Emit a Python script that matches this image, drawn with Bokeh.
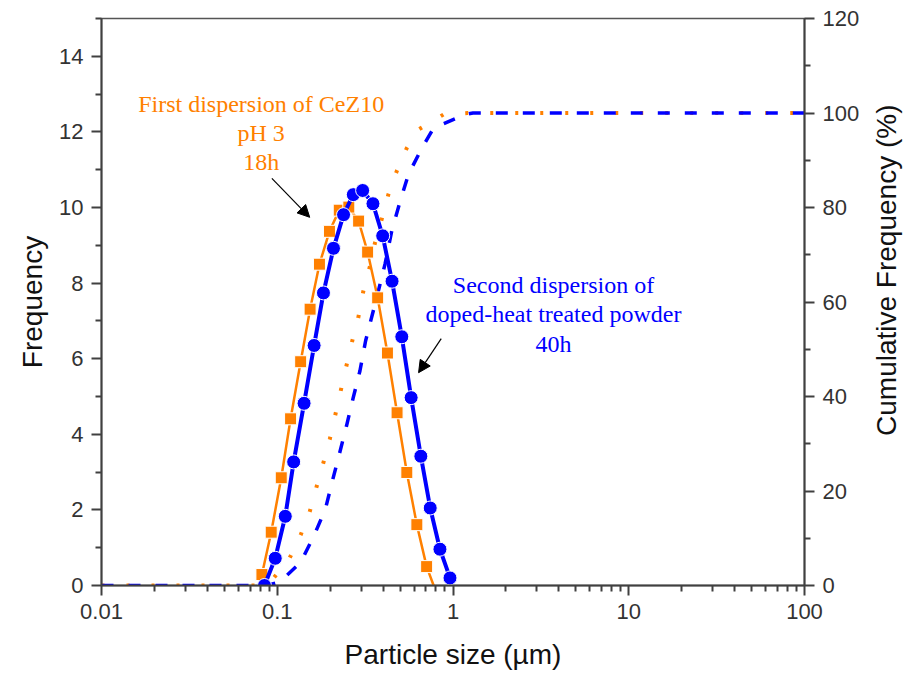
import math
from bokeh.plotting import figure
from bokeh.layouts import row
from bokeh.models import (Range1d, LinearAxis, FixedTicker, CustomJSTickFormatter,
                          Arrow, NormalHead)
from bokeh.core.properties import value
from bokeh.embed import file_html
from bokeh.resources import INLINE

# ---------------- data ----------------
# First dispersion of CeZ10, pH 3, 18h  (orange)
first_size = [0.0818, 0.0924, 0.1054, 0.1191, 0.1359, 0.1538, 0.1738, 0.1982, 0.2253,
              0.2554, 0.2904, 0.3268, 0.3727, 0.4236, 0.4806, 0.5461, 0.6227, 0.7079]
first_freq = [0.29, 1.41, 2.85, 4.41, 5.92, 7.31, 8.50, 9.37, 9.93,
              10.01, 9.64, 8.82, 7.61, 6.15, 4.57, 2.99, 1.61, 0.50]
first_edge_size = [0.079, 0.776]
first_edge_freq = [0.0, 0.0]

first_cum_size = [0.01, 0.0789, 0.0945, 0.1176, 0.1359, 0.1530, 0.1671, 0.1825, 0.1991,
                  0.2145, 0.2300, 0.2479, 0.2673, 0.2892, 0.3089, 0.3369, 0.3597, 0.3929,
                  0.4292, 0.4786, 0.5460, 0.6368, 0.8849, 1.21, 100]
first_cum = [0, 0, 1.4, 5.8, 10.7, 15.6, 20.8, 25.8, 31.0,
             36.3, 41.3, 46.6, 51.8, 56.7, 62.3, 67.6, 72.5, 77.5,
             82.8, 87.7, 92.6, 96.5, 99.7, 100, 100]

# Second dispersion of doped-heat treated powder, 40h  (blue)
second_size = [0.0846, 0.0974, 0.1111, 0.1240, 0.1421, 0.1621, 0.1832, 0.2089, 0.2384, 0.2708,
               0.3061, 0.3504, 0.3981, 0.4500, 0.5113, 0.5779, 0.6563, 0.7420, 0.8428, 0.9614]
second_freq = [0.0, 0.72, 1.83, 3.27, 4.82, 6.35, 7.74, 8.92, 9.81, 10.34,
               10.45, 10.10, 9.25, 8.05, 6.58, 4.97, 3.42, 2.05, 0.96, 0.20]

second_cum_size = [0.01, 0.0865, 0.1031, 0.1359, 0.1621, 0.1880, 0.2062, 0.2270, 0.2479,
                   0.2708, 0.2954, 0.3183, 0.3679, 0.4103, 0.4480, 0.5000, 0.5581, 0.6652,
                   0.7759, 1.176, 1.3, 100]
second_cum = [0, 0, 0.7, 4.9, 10.6, 16.2, 22.2, 28.2, 33.8,
              39.8, 45.4, 51.8, 60.9, 68.0, 75.0, 81.3, 87.0, 92.6,
              96.8, 99.7, 100, 100]

x_ticks = [0.01, 0.1, 1, 10, 100]
y_ticks = [0, 2, 4, 6, 8, 10, 12, 14]
y2_ticks = [0, 20, 40, 60, 80, 100, 120]

first_label = ["First dispersion of CeZ10", "pH 3", "18h"]
second_label = ["Second dispersion of", "doped-heat treated powder", "40h"]
right_axis_title = ["Cumulative Frequency (%)"]

# ---------------- styles ----------------
ORANGE = "#FF8000"
BLUE = "#0000FF"
AXC = "#404040"
TICKC = "#333333"
SANS = "Liberation Sans"
SERIF = "Liberation Serif"

W_MAIN, W_SIDE, H = 866, 39, 679

p = figure(width=W_MAIN, height=H, x_axis_type="log",
           x_range=Range1d(0.01, 100), y_range=Range1d(0, 15),
           output_backend="svg", toolbar_location=None,
           min_border_left=101, min_border_right=62,
           min_border_top=18, min_border_bottom=94)
p.extra_y_ranges = {"cum": Range1d(0, 120)}
p.grid.visible = False
p.outline_line_color = "#555555"
p.outline_line_width = 1.5
p.background_fill_color = "white"
p.border_fill_color = "white"


def style_axis(ax):
    ax.axis_line_color = AXC
    ax.axis_line_width = 2
    ax.major_tick_line_color = AXC
    ax.minor_tick_line_color = AXC
    ax.major_tick_line_width = 2
    ax.minor_tick_line_width = 2
    ax.major_tick_in = 0
    ax.major_tick_out = 10
    ax.minor_tick_in = 0
    ax.minor_tick_out = 6
    ax.major_label_text_font = SANS
    ax.major_label_text_font_size = "22px"
    ax.major_label_text_color = TICKC
    ax.major_label_standoff = 8
    ax.axis_label_text_font = SANS
    ax.axis_label_text_font_size = "28px"
    ax.axis_label_text_font_style = "normal"
    ax.axis_label_text_color = "#111111"


xa = p.xaxis[0]
minor_x = [k * 10.0 ** e for e in range(-2, 2) for k in range(2, 10)]
xa.ticker = FixedTicker(ticks=x_ticks, minor_ticks=minor_x)
xa.formatter = CustomJSTickFormatter(code="return tick.toString();")
xa.axis_label = "Particle size (\u00b5m)"
style_axis(xa)
xa.axis_label_standoff = 17

ya = p.yaxis[0]
ya.ticker = FixedTicker(ticks=y_ticks, minor_ticks=[1, 3, 5, 7, 9, 11, 13, 15])
ya.axis_label = "Frequency"
style_axis(ya)
ya.axis_label_standoff = 8

y2 = LinearAxis(y_range_name="cum",
                ticker=FixedTicker(ticks=y2_ticks, minor_ticks=[10, 30, 50, 70, 90, 110]))
style_axis(y2)
p.add_layout(y2, "right")

# cumulative curves (right axis)
p.line(first_cum_size, first_cum, y_range_name="cum", line_color=ORANGE,
       line_width=4, line_dash="3 22")
p.line(second_cum_size, second_cum, y_range_name="cum", line_color=BLUE,
       line_width=3.5, line_dash="12 15")

# frequency curves (left axis)
first_line_x = [first_edge_size[0]] + first_size + [first_edge_size[1]]
first_line_y = [first_edge_freq[0]] + first_freq + [first_edge_freq[1]]
p.line(first_line_x, first_line_y, line_color=ORANGE, line_width=2.5)
p.scatter(first_size, first_freq, marker="square", size=12,
          fill_color=ORANGE, line_color="white", line_width=1)

p.line(second_size, second_freq, line_color=BLUE, line_width=4)
p.scatter(second_size, second_freq, marker="circle", size=14,
          fill_color=BLUE, line_color="white", line_width=1)

# annotations
p.text(x=[0.081] * 3, y=[12.75, 11.96, 11.2], text=first_label,
       text_font=value(SERIF), text_font_size=value("24px"), text_color=ORANGE,
       text_align="center", text_baseline="middle")
p.text(x=[3.73] * 3, y=[7.95, 7.18, 6.39], text=second_label,
       text_font=value(SERIF), text_font_size=value("24px"), text_color=BLUE,
       text_align="center", text_baseline="middle")

p.add_layout(Arrow(end=NormalHead(size=12, fill_color="black", line_color="black", line_width=1),
                   x_start=0.0932, y_start=10.77, x_end=0.153, y_end=9.74,
                   line_color="black", line_width=1.2))
p.add_layout(Arrow(end=NormalHead(size=12, fill_color="black", line_color="black", line_width=1),
                   x_start=0.857, y_start=6.53, x_end=0.637, y_end=5.63,
                   line_color="black", line_width=1.2))

# narrow side panel holding the right-axis title, reading bottom-to-top
side = figure(width=W_SIDE, height=H, x_range=Range1d(0, 1), y_range=Range1d(0, H),
              output_backend="svg", toolbar_location=None,
              x_axis_location=None, y_axis_location=None, min_border=0)
side.grid.visible = False
side.outline_line_color = None
side.background_fill_color = "white"
side.border_fill_color = "white"
side.text(x=[0.5], y=[H - 301.5], text=right_axis_title, angle=math.pi / 2,
          text_font=value(SANS), text_font_size=value("28px"), text_color="#111111",
          text_align="center", text_baseline="middle")

layout = row(p, side, spacing=0)

open("out.html", "w").write(file_html(layout, INLINE))
